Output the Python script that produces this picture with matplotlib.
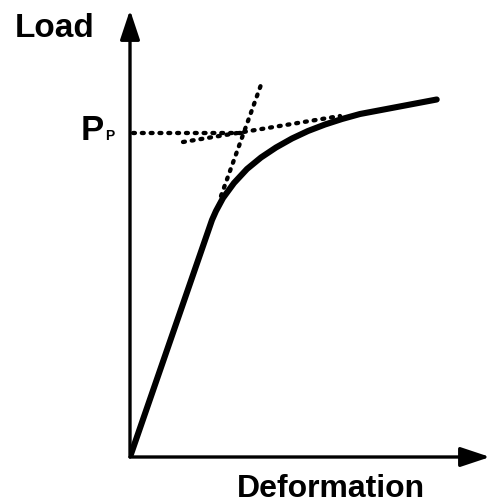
import matplotlib
matplotlib.use("Agg")
import matplotlib.pyplot as plt

# load-deformation curve (arbitrary units)
deform = [0, 82, 86, 93, 104, 117, 131, 146, 162, 178, 195, 212, 230, 306.7]
load = [0, 237, 246, 259, 274, 288, 299.5, 309.5, 318.5, 326, 332.5, 338, 343, 357.5]

# construction lines
elastic_x = [91, 132]
elastic_y = [261, 375]
plastic_x = [53, 210]
plastic_y = [315, 341]
pp_x = [3, 115]
pp_y = [324, 324]

W, H = 492, 504
fig = plt.figure(figsize=(W / 100, H / 100), dpi=100)
ax = fig.add_axes([130 / W, 47 / H, 360 / W, 447 / H])
ax.set_xlim(0, 360)
ax.set_ylim(0, 447)
ax.axis("off")

arrow = dict(arrowstyle="-|>,head_length=0.9,head_width=0.3", lw=2.4,
             color="black", mutation_scale=20, shrinkA=0, shrinkB=0)
ax.annotate("", xy=(1, 0), xytext=(0, 0), xycoords="axes fraction",
            textcoords="axes fraction", arrowprops=arrow, annotation_clip=False)
ax.annotate("", xy=(0, 1), xytext=(0, 0), xycoords="axes fraction",
            textcoords="axes fraction", arrowprops=arrow, annotation_clip=False)

dot = dict(color="black", lw=3.1, linestyle=(0, (0.45, 1.6)), dash_capstyle="round")
ax.plot(pp_x, pp_y, **dot)
ax.plot(elastic_x, elastic_y, **dot)
ax.plot(plastic_x, plastic_y, **dot)

ax.plot(deform, load, color="black", lw=4.4, solid_capstyle="round",
        solid_joinstyle="round")

font = dict(family="Liberation Sans", weight="bold", color="black")
fig.text(15 / W, 1 - 37 / H, "Load", fontsize=24, ha="left", va="baseline", **font)
fig.text(237 / W, 1 - 497 / H, "Deformation", fontsize=23, ha="left",
         va="baseline", **font)
fig.text(81 / W, 1 - 140 / H, "P", fontsize=25, ha="left", va="baseline", **font)
fig.text(105 / W, 1 - 140 / H, "P", fontsize=10, ha="left", va="baseline", **font)

fig.savefig("out.png", dpi=100)
